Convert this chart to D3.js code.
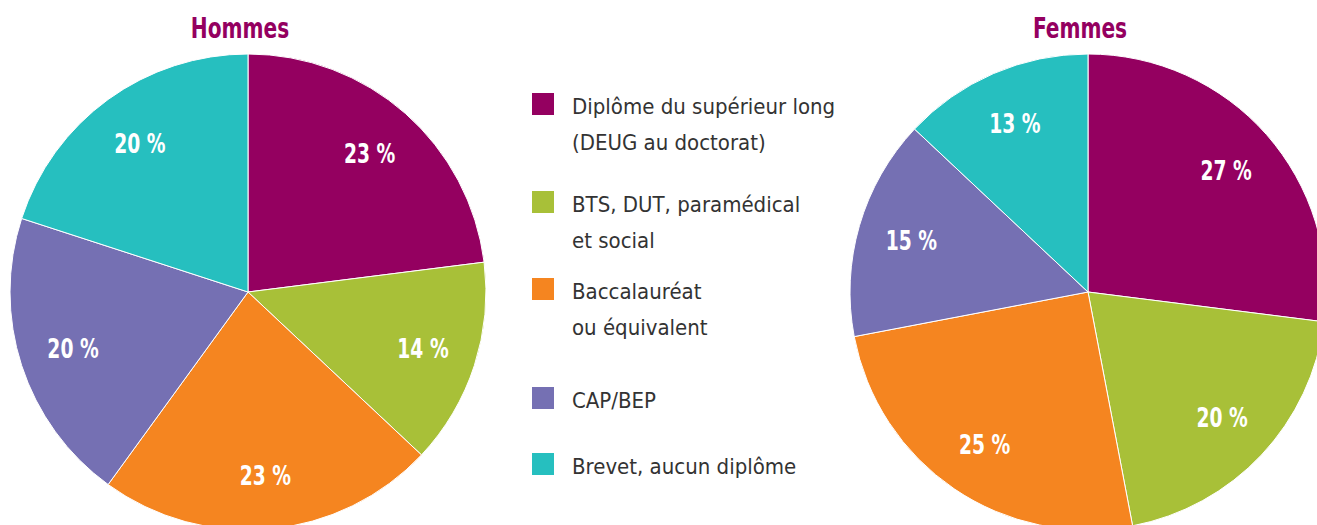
<!DOCTYPE html>
<html>
<head>
<meta charset="utf-8">
<script src="https://cdn.jsdelivr.net/npm/d3@7/dist/d3.min.js"></script>
<style>
  body { margin: 0; background: #fff; }
  svg { display: block; font-family: "Liberation Sans Narrow", "DejaVu Sans Condensed", sans-serif; }
</style>
</head>
<body>
<svg id="chart"></svg>
<script>
// categories and values (%)
const categories = [
    ["Diplôme du supérieur long", "(DEUG au doctorat)"],
    ["BTS, DUT, paramédical", "et social"],
    ["Baccalauréat", "ou équivalent"],
    ["CAP/BEP"],
    ["Brevet, aucun diplôme"]
];
const hommes = [23, 14, 23, 20, 20];
const femmes = [27, 20, 25, 15, 13];
const colors = ['#940060', '#a8c038', '#f58520', '#7570b3', '#26bfbf'];

const width = 1317, height = 525;

const svg = d3.select('#chart')
    .attr('width', width)
    .attr('height', height);

const radius = 238;
const pie = d3.pie().sort(null).value(d => d);
const arc = d3.arc().innerRadius(0).outerRadius(radius);
const labelArc = d3.arc().innerRadius(184).outerRadius(184);

function drawPie(values, cx, title) {
    let g = svg.append('g')
        .attr('transform', `translate(${cx},292)`);

    g.selectAll('path')
        .data(pie(values))
        .join('path')
        .attr('d', arc)
        .attr('fill', (d, i) => colors[i])
        .attr('stroke', '#fff')
        .attr('stroke-width', 1);

    // condensed look: squeeze the text horizontally
    g.selectAll('.lbl')
        .data(pie(values))
        .join('text')
        .attr('class', 'lbl')
        .attr('transform', d => `translate(${labelArc.centroid(d)}) scale(0.8,1)`)
        .attr('text-anchor', 'middle')
        .attr('dy', '0.36em')
        .style('fill', '#fff')
        .style('font-weight', 700)
        .style('font-size', '26px')
        .text(d => d.data + ' %');

    svg.append('text')
        .attr('transform', `translate(${cx - 8},38) scale(0.8,1)`)
        .attr('text-anchor', 'middle')
        .style('fill', '#940060')
        .style('font-weight', 700)
        .style('font-size', '28px')
        .text(title);
}

drawPie(hommes, 248, 'Hommes');
drawPie(femmes, 1088, 'Femmes');

// legend
const legendY = [93, 191, 278, 387, 453];
const legend = svg.append('g');

legend.selectAll('rect')
    .data(categories)
    .join('rect')
    .attr('x', 532)
    .attr('y', (d, i) => legendY[i])
    .attr('width', 22)
    .attr('height', 22)
    .attr('fill', (d, i) => colors[i]);

legend.selectAll('text')
    .data(categories)
    .join('text')
    .attr('x', 572)
    .attr('y', (d, i) => legendY[i] + 21)
    .style('fill', '#333')
    .style('font-size', '22px')
    .selectAll('tspan')
    .data(d => d)
    .join('tspan')
    .attr('x', 572)
    .attr('dy', (d, i) => i === 0 ? 0 : 36)
    .text(d => d);
</script>
</body>
</html>
